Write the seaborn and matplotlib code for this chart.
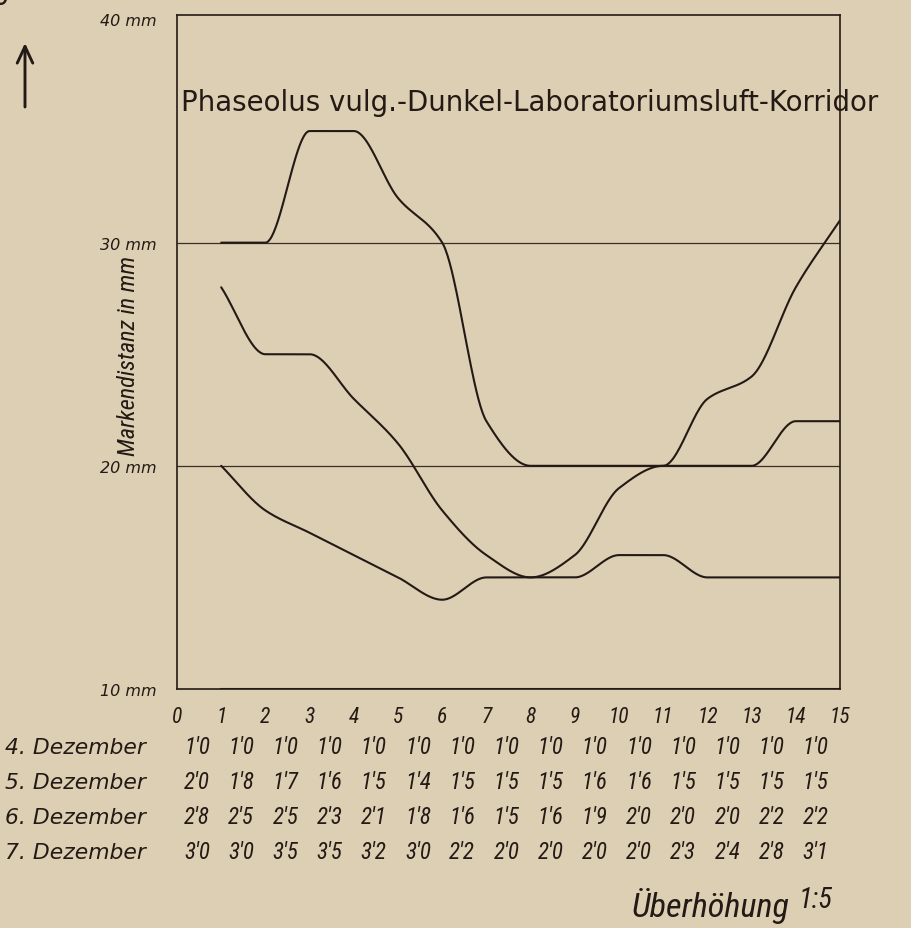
import numpy as np
import pandas as pd
import matplotlib
matplotlib.use("Agg")
import matplotlib.pyplot as plt
import matplotlib.transforms as mtransforms
from matplotlib import font_manager
import seaborn as sns

# --- measurements (cm) taken on four successive days at marks 1..15 ---
positions = [1, 2, 3, 4, 5, 6, 7, 8, 9, 10, 11, 12, 13, 14, 15]
tick_values = [0, 1, 2, 3, 4, 5, 6, 7, 8, 9, 10, 11, 12, 13, 14, 15]
row_labels = ["4. Dezember", "5. Dezember", "6. Dezember", "7. Dezember"]
dez4 = [1.0, 1.0, 1.0, 1.0, 1.0, 1.0, 1.0, 1.0, 1.0, 1.0, 1.0, 1.0, 1.0, 1.0, 1.0]
dez5 = [2.0, 1.8, 1.7, 1.6, 1.5, 1.4, 1.5, 1.5, 1.5, 1.6, 1.6, 1.5, 1.5, 1.5, 1.5]
dez6 = [2.8, 2.5, 2.5, 2.3, 2.1, 1.8, 1.6, 1.5, 1.6, 1.9, 2.0, 2.0, 2.0, 2.2, 2.2]
dez7 = [3.0, 3.0, 3.5, 3.5, 3.2, 3.0, 2.2, 2.0, 2.0, 2.0, 2.0, 2.3, 2.4, 2.8, 3.1]
y_ticks = [10, 20, 30, 40]
y_tick_labels = ["10 mm", "20 mm", "30 mm", "40 mm"]
guide_levels = [20, 30]
title = "Phaseolus vulg.-Dunkel-Laboratoriumsluft-Korridor"
y_label = "Markendistanz in mm"

PAPER = "#dccfb3"
INK = "#241a15"
W, H = 912, 929

sns.set_theme(style="white")
available = {f.name for f in font_manager.fontManager.ttflist}


def pick(cands):
    for c in cands:
        if c in available:
            return c
    return "DejaVu Sans"


NARROW = pick(["Roboto Condensed", "Liberation Sans Narrow", "DejaVu Sans Condensed",
               "Open Sans Condensed", "Noto Sans Condensed", "DejaVu Sans"])
plt.rcParams["font.family"] = [NARROW, "DejaVu Sans"]
plt.rcParams["text.color"] = INK


def pchip(x, y, xs):
    """Shape-preserving cubic Hermite curve through (x, y)."""
    x = np.asarray(x, float)
    y = np.asarray(y, float)
    h = np.diff(x)
    d = np.diff(y) / h
    m = np.zeros_like(y)
    for k in range(1, len(x) - 1):
        if d[k - 1] * d[k] > 0:
            w1 = 2 * h[k] + h[k - 1]
            w2 = h[k] + 2 * h[k - 1]
            m[k] = (w1 + w2) / (w1 / d[k - 1] + w2 / d[k])
    m[0], m[-1] = d[0], d[-1]
    idx = np.clip(np.searchsorted(x, xs) - 1, 0, len(x) - 2)
    t = (xs - x[idx]) / h[idx]
    h00 = 2 * t**3 - 3 * t**2 + 1
    h10 = t**3 - 2 * t**2 + t
    h01 = -2 * t**3 + 3 * t**2
    h11 = t**3 - t**2
    return h00 * y[idx] + h10 * h[idx] * m[idx] + h01 * y[idx + 1] + h11 * h[idx] * m[idx + 1]


fig = plt.figure(figsize=(W / 100, H / 100), dpi=100, facecolor=PAPER)
ax = fig.add_axes([177 / W, 1 - 690 / H, (840 - 177) / W, (690 - 16) / H])
ax.set_facecolor(PAPER)

# smooth growth curves, in mm
series = {"4. Dezember": dez4, "5. Dezember": dez5, "6. Dezember": dez6, "7. Dezember": dez7}
xs = np.linspace(positions[0], positions[-1], 600)
frames = []
for name, vals in series.items():
    mm = np.array(vals) * 10
    frames.append(pd.DataFrame({"tag": name, "x": xs, "mm": pchip(positions, mm, xs)}))
curves = pd.concat(frames, ignore_index=True)

for lvl in guide_levels:
    ax.axhline(lvl, color="#3b2f28", lw=0.9, zorder=1)

sns.lineplot(data=curves, x="x", y="mm", units="tag", estimator=None, sort=False,
             color=INK, lw=1.5, ax=ax, legend=False, zorder=3)

ax.set_xlim(0, 15)
ax.set_ylim(10, 40.2)
ax.set_xlabel("")
ax.set_ylabel("")
for s in ax.spines.values():
    s.set_visible(True)
    s.set_color(INK)
    s.set_linewidth(1.2)

ax.set_xticks(tick_values)
ax.set_xticklabels([str(v) for v in tick_values])
ax.set_yticks(y_ticks)
ax.set_yticklabels(y_tick_labels)
ax.tick_params(axis="x", direction="in", length=6.5, width=1.1, color=INK,
               pad=12, labelcolor=INK, labelsize=15.5)
ax.tick_params(axis="y", length=0, pad=15, labelcolor=INK, labelsize=11.5)
for lbl in ax.get_xticklabels():
    lbl.set_fontstyle("italic")
for lbl in ax.get_yticklabels():
    lbl.set_fontstyle("italic")
    lbl.set_family(["DejaVu Sans"])

renderer = fig.canvas.get_renderer()


def fit_width(t, target):
    w = t.get_window_extent(renderer).width
    t.set_fontsize(t.get_fontsize() * target / w)


def fit_height(t, target):
    hh = t.get_window_extent(renderer).height
    t.set_fontsize(t.get_fontsize() * target / hh)


def fx(x):
    return x / W


def fy(y):
    return 1 - y / H


# heading inside the frame
t_title = fig.text(fx(181), fy(103), title, ha="left", va="center",
                   family=["DejaVu Sans"], fontsize=18, color=INK)
fit_width(t_title, 700)

# vertical axis caption
t_ylab = fig.text(fx(129), fy(356), y_label, rotation=90, ha="center", va="center",
                  fontstyle="italic", fontsize=13, color=INK)
fit_height(t_ylab, 200)

# upward arrow at the left margin
fig.add_artist(matplotlib.patches.FancyArrowPatch(
    (fx(25), fy(108)), (fx(25), fy(44)), transform=fig.transFigure,
    arrowstyle="->,head_length=0.6,head_width=0.28", lw=2.1, color=INK,
    mutation_scale=20, shrinkA=0, shrinkB=0))

# figure number fragment at the very top
fig.text(fx(-4), fy(-1), "g", ha="left", va="baseline", fontstyle="italic",
         fontsize=22, color=INK)

# table of measured values under the axis
row_y = [748, 783, 818, 853]
label_objs = []
for lab, yy in zip(row_labels, row_y):
    t = fig.text(fx(5), fy(yy), lab, ha="left", va="center", fontstyle="italic",
                 family=["DejaVu Sans"], fontsize=15, color=INK)
    label_objs.append(t)
fit_width(label_objs[0], 141)
row_fs = label_objs[0].get_fontsize()
for t in label_objs:
    t.set_fontsize(row_fs)

mixed = mtransforms.blended_transform_factory(ax.transData, fig.transFigure)
value_objs = []
for vals, yy in zip([dez4, dez5, dez6, dez7], row_y):
    for p, v in zip(positions, vals):
        t = ax.text(p - 0.55, fy(yy), f"{v:.1f}".replace(".", "'"), transform=mixed,
                    ha="center", va="center", fontstyle="italic",
                    fontsize=14, color=INK, clip_on=False)
        value_objs.append(t)
fit_width(value_objs[15], 26)
val_fs = value_objs[15].get_fontsize()
for t in value_objs:
    t.set_fontsize(val_fs)

# vertical exaggeration note
t_ub = fig.text(fx(632), fy(906), "Überhöhung", ha="left", va="center",
                fontstyle="italic", fontsize=16, color=INK)
fit_width(t_ub, 158)
t_sc = fig.text(fx(799), fy(900), "1:5", ha="left", va="center",
                fontstyle="italic", fontsize=12, color=INK)
fit_width(t_sc, 34)

fig.savefig("out.png", dpi=100, facecolor=PAPER)
